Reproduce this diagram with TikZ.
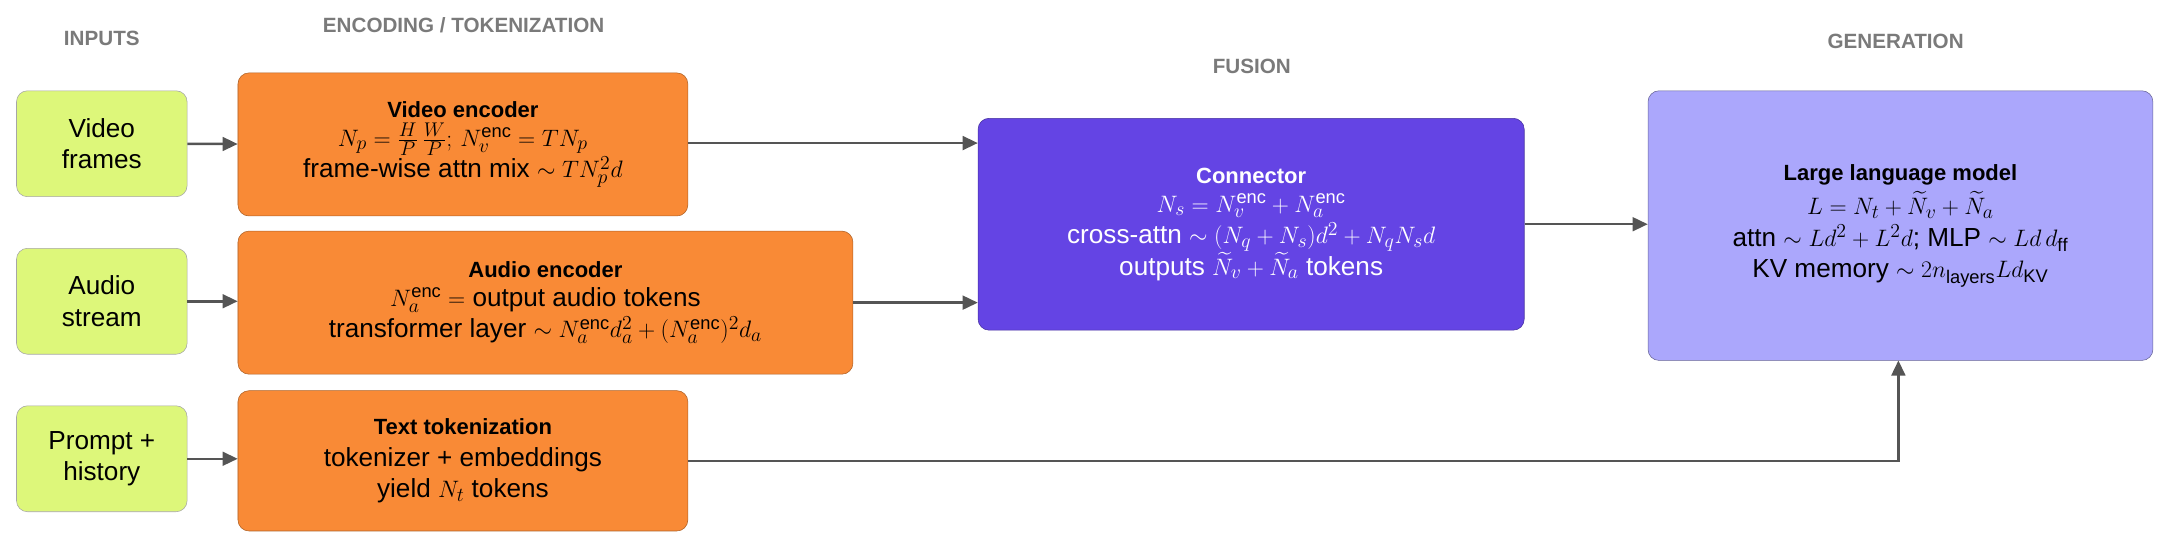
\documentclass[tikz,border=0pt]{standalone}
\usepackage{amsmath}
\usepackage{fontspec}
\setmainfont{Liberation Sans}
\usetikzlibrary{arrows.meta}
\definecolor{inp}{HTML}{DDF77A}
\definecolor{enc}{HTML}{F98A36}
\definecolor{con}{HTML}{6444E4}
\definecolor{llm}{HTML}{ABA7FC}
\definecolor{hd}{HTML}{7A7A7A}
\definecolor{ar}{HTML}{555555}
\newcommand\ttlf{\bfseries\fontsize{16}{19}\selectfont}
\tikzset{
 box/.style={draw, rounded corners=8pt, align=center, font=\fontsize{19}{23}\selectfont, inner sep=2pt},
 inbox/.style={box, fill=inp, draw=gray!70},
 encbox/.style={box, fill=enc, draw=enc!70!black},
 hdr/.style={font=\bfseries\fontsize{15}{18}\selectfont, text=hd},
 arr/.style={draw=ar, line width=1.8pt, -{Triangle[length=11pt,width=10pt]}}
}
\begin{document}
\begin{tikzpicture}[x=1pt,y=1pt]
\useasboundingbox (0,0) rectangle (1568,-398);
\node[hdr] (h1) at (74,-28) {INPUTS};
\node[hdr] (h2) at (337,-18) {ENCODING / TOKENIZATION};
\node[hdr] (h3) at (910,-48) {FUSION};
\node[hdr] (h4) at (1378,-30) {GENERATION};

\node[inbox, minimum width=124pt, minimum height=77pt] (vf) at (74,-104.5) {Video\\frames};
\node[inbox, minimum width=124pt, minimum height=77pt] (as) at (74,-219) {Audio\\stream};
\node[inbox, minimum width=124pt, minimum height=77pt] (ph) at (74,-333.5) {Prompt +\\history};

\node[encbox, minimum width=327pt, minimum height=104pt] (ve) at (336.5,-105) {{\ttlf Video encoder}\\[-2pt]
$N_p = \frac{H}{P}\,\frac{W}{P};\, N_v^{\mathrm{enc}} = TN_p$\\
frame-wise attn mix $\sim TN_p^2 d$};
\node[encbox, minimum width=447pt, minimum height=104pt] (ae) at (396.5,-220) {{\ttlf Audio encoder}\\[-2pt]
$N_a^{\mathrm{enc}} =$ output audio tokens\\
transformer layer $\sim N_a^{\mathrm{enc}} d_a^2 + (N_a^{\mathrm{enc}})^2 d_a$};
\node[encbox, minimum width=327pt, minimum height=102pt] (tt) at (336.5,-335) {{\ttlf Text tokenization}\\
tokenizer + embeddings\\
yield $N_t$ tokens};

\node[box, fill=con, draw=con!70!black, text=white, minimum width=397pt, minimum height=154pt] (cn) at (909.5,-163) {{\ttlf Connector}\\[-2pt]
$N_s = N_v^{\mathrm{enc}} + N_a^{\mathrm{enc}}$\\
cross-attn $\sim (N_q + N_s)d^2 + N_q N_s d$\\
outputs $\widetilde{N}_v + \widetilde{N}_a$ tokens};

\node[box, fill=llm, draw=llm!60!black, minimum width=367pt, minimum height=196pt] (lm) at (1381.5,-164) {{\ttlf Large language model}\\[2pt]
$L = N_t + \widetilde{N}_v + \widetilde{N}_a$\\
attn $\sim Ld^2 + L^2 d$; MLP $\sim Ld\,d_{\mathrm{ff}}$\\
KV memory $\sim 2n_{\mathrm{layers}} L d_{\mathrm{KV}}$};

\draw[arr] (vf) -- (ve);
\draw[arr] (as) -- (ae.west |- as);
\draw[arr] (ph) -- (tt.west |- ph);
\draw[arr] (ve.east |- 0,-104) -- (cn.west |- 0,-104);
\draw[arr] (ae.east) -- (cn.west |- ae.east);
\draw[arr] (cn.east) -- (lm.west |- cn.east);
\draw[arr] (tt.east) -- (1380,-335) -- (1380,-262);
\end{tikzpicture}
\end{document}
